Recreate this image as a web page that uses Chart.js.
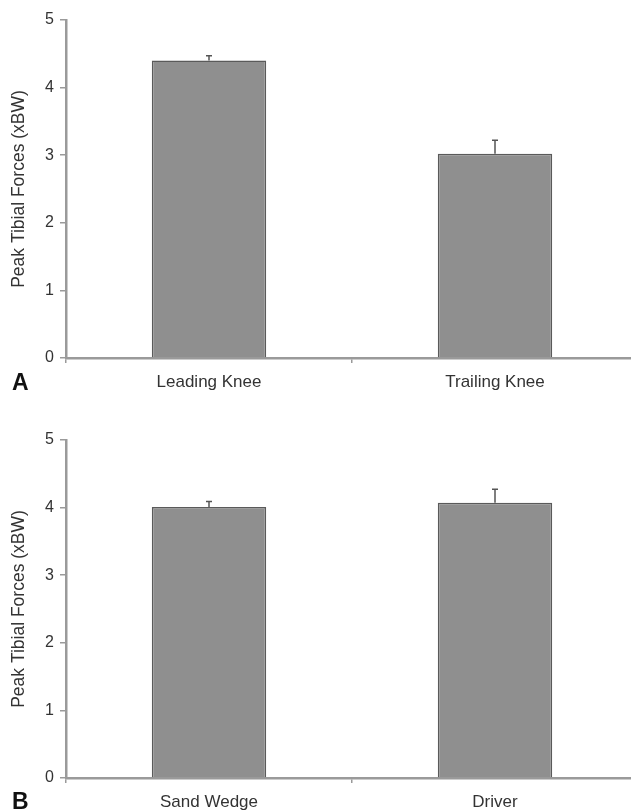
<!DOCTYPE html>
<html>
<head>
<meta charset="utf-8">
<script src="https://cdn.jsdelivr.net/npm/chart.js@4.4.0/dist/chart.umd.min.js"></script>
<style>
  html, body { margin: 0; padding: 0; background: #fff; overflow: hidden; }
  body { width: 631px; height: 812px; position: relative; }
  .panel { position: absolute; left: 0; width: 645px; height: 400px; }
  .letter { position: absolute; left: 12px; font: bold 23px "Liberation Sans", Arial, sans-serif; color: #111; line-height: 1; }
</style>
</head>
<body>

<div class="panel" style="top:0px"><canvas id="chartA" width="645" height="400"></canvas></div>
<div class="panel" style="top:420px"><canvas id="chartB" width="645" height="400"></canvas></div>
<div class="letter" style="top:371px">A</div>
<div class="letter" style="top:790px">B</div>

<script>
// panel A
var kneeLabels = ["Leading Knee", "Trailing Knee"];
var kneeForces = [4.40, 3.02];
var kneeErrors = [0.07, 0.20];

// panel B
var clubLabels = ["Sand Wedge", "Driver"];
var clubForces = [4.01, 4.07];
var clubErrors = [0.08, 0.20];

var yTicks = [0, 1, 2, 3, 4, 5];
var yTitle = "Peak Tibial Forces (xBW)";

var fontName = "'Liberation Sans', Arial, sans-serif";
var axisGray = "#9a9a9a";
var textGray = "#333";

// draws the error bars above each bar
var errorBars = {
  id : "errorBars",
  afterDatasetsDraw : function(chart) {
    var ctx = chart.ctx;
    var yScale = chart.scales.y;
    var meta = chart.getDatasetMeta(0);
    var values = chart.data.datasets[0].data;
    var errs = chart.data.datasets[0].errors;
    ctx.save();
    ctx.strokeStyle = "#555";
    ctx.lineWidth = 1.5;
    for (var i = 0; i < meta.data.length; i++) {
      var bar = meta.data[i];
      var yTop = yScale.getPixelForValue(values[i] + errs[i]);
      var yBase = yScale.getPixelForValue(values[i]);
      ctx.beginPath();
      ctx.moveTo(bar.x, yBase);
      ctx.lineTo(bar.x, yTop);
      ctx.moveTo(bar.x - 3, yTop);
      ctx.lineTo(bar.x + 3, yTop);
      ctx.stroke();
    }
    ctx.restore();
  }
};

function makeChart(id, labels, values, errors) {
  var ctx = document.getElementById(id);

  var data = {
    labels : labels,
    datasets : [
      {
        data : values,
        errors : errors,
        backgroundColor : "#8f8f8f",
        borderColor : "#5a5a5a",
        borderWidth : 1.5,
        borderSkipped : "bottom",
        barPercentage : 0.4,
        categoryPercentage : 1.0
      }
    ]
  };

  var options = {
    responsive : false,
    animation : false,
    layout : { padding : { top : 20, right : 7, left : 0, bottom : 0 } },
    plugins : {
      legend : { display : false },
      tooltip : { enabled : false }
    },
    scales : {
      x : {
        offset : true,
        grid : {
          offset : true,
          drawOnChartArea : false,
          color : axisGray,
          lineWidth : 1.5,
          tickLength : 5
        },
        border : { color : axisGray, width : 2.5 },
        ticks : {
          color : textGray,
          font : { family : fontName, size : 17 },
          padding : 9,
          maxRotation : 0
        },
        afterFit : function(scale) { scale.height = 42; }
      },
      y : {
        min : 0,
        max : 5,
        afterBuildTicks : function(scale) {
          scale.ticks = yTicks.map(function(v) { return { value : v }; });
        },
        grid : {
          drawOnChartArea : false,
          color : axisGray,
          lineWidth : 1.5,
          tickLength : 6
        },
        border : { color : axisGray, width : 2.5 },
        ticks : {
          color : textGray,
          font : { family : fontName, size : 16 },
          padding : 6
        },
        title : {
          display : true,
          text : yTitle,
          color : textGray,
          font : { family : fontName, size : 17.5 },
          padding : { top : 9, bottom : 0 }
        },
        afterFit : function(scale) { scale.width = 66; }
      }
    }
  };

  return new Chart(ctx, {
    type : "bar",
    data : data,
    options : options,
    plugins : [errorBars]
  });
}

makeChart("chartA", kneeLabels, kneeForces, kneeErrors);
makeChart("chartB", clubLabels, clubForces, clubErrors);
</script>
</body>
</html>
